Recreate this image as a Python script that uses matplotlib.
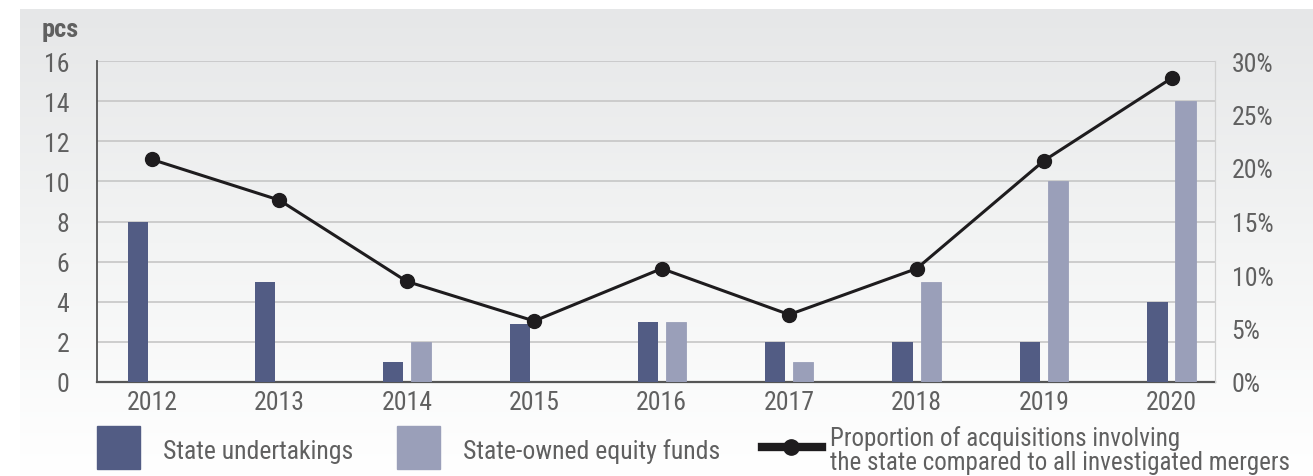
import numpy as np
import matplotlib
matplotlib.use("Agg")
import matplotlib.pyplot as plt
from matplotlib import font_manager
from matplotlib.patches import Rectangle
from matplotlib.lines import Line2D

# data
years = ['2012', '2013', '2014', '2015', '2016', '2017', '2018', '2019', '2020']
state_undertakings = [8, 5, 1, 2.9, 3, 2, 2, 2, 4]
state_funds = [0, 0, 2, 0, 3, 1, 5, 10, 14]
proportion = [20.8, 17.0, 9.4, 5.7, 10.6, 6.3, 10.6, 20.7, 28.4]

left_ticks = [0, 2, 4, 6, 8, 10, 12, 14, 16]
right_ticks = [0, 5, 10, 15, 20, 25, 30]

names = set(f.name for f in font_manager.fontManager.ttflist)
for fam in ['Liberation Sans Narrow', 'Roboto Condensed', 'DejaVu Sans Condensed', 'Roboto']:
    if fam in names:
        plt.rcParams['font.family'] = [fam, 'DejaVu Sans']
        break

dark = '#525c84'
light = '#9a9fb9'
txt = '#606060'
fs = 18.5

W, H = 1313, 477
fig = plt.figure(figsize=(W / 100, H / 100), dpi=100)

# gradient background panel
bg = fig.add_axes([20 / W, 0, 1 - 20 / W, 1 - 10 / H], zorder=-10)
grad = np.linspace(0, 1, 256).reshape(-1, 1)
bg.imshow(grad, aspect='auto', cmap=matplotlib.colors.LinearSegmentedColormap.from_list(
    'g', ['#e6e7e8', '#f3f4f4', '#ffffff']), extent=[0, 1, 0, 1], origin='upper')
bg.axis('off')

ax = fig.add_axes([97 / W, 1 - 383 / H, (1215 - 97) / W, (383 - 62) / H])
ax.patch.set_alpha(0)
x = np.arange(len(years))
bw = 0.16
ax.bar(x - 0.11, state_undertakings, bw, color=dark, zorder=3)
ax.bar(x + 0.11, state_funds, bw, color=light, edgecolor=light, linewidth=0.6, zorder=3)
ax.set_xlim(-0.43, 8.34)
ax.set_ylim(0, 16)
ax.set_yticks(left_ticks)
ax.set_xticks(x)
ax.set_xticklabels(years)
ax.grid(axis='y', color='#c6c6c6', linewidth=1.2, zorder=0)
ax.set_axisbelow(True)
ax.tick_params(length=0, labelsize=fs, colors=txt, pad=6)
ax.tick_params(axis='y', pad=20)
ax.spines['top'].set_visible(False)
ax.spines['left'].set_color('#555555')
ax.spines['left'].set_linewidth(1.3)
ax.spines['bottom'].set_color('#555555')
ax.spines['bottom'].set_linewidth(1.6)
ax.spines['right'].set_color('#d0d0d0')

ax2 = ax.twinx()
ax2.plot(x, proportion, color='#1e1c1e', linewidth=2.2, marker='o', markersize=10, zorder=5)
ax2.set_ylim(0, 30)
ax2.set_yticks(right_ticks)
ax2.set_yticklabels([f'{t}%' for t in right_ticks])
ax2.tick_params(length=0, labelsize=fs, colors=txt, pad=12)
for s in ['top', 'left', 'bottom']:
    ax2.spines[s].set_visible(False)
ax2.spines['right'].set_color('#d0d0d0')

fig.text(42 / W, 1 - 30 / H, 'pcs', fontsize=19, fontweight='bold', color=txt, va='center')

# legend drawn in figure coordinates
fig.patches.append(Rectangle((97 / W, 1 - 470 / H), 43 / W, 43 / H, color=dark, transform=fig.transFigure))
fig.text(163 / W, 1 - 452 / H, 'State undertakings', fontsize=fs, color=txt, va='center')
fig.patches.append(Rectangle((397 / W, 1 - 470 / H), 43 / W, 43 / H, color=light, transform=fig.transFigure))
fig.text(463 / W, 1 - 452 / H, 'State-owned equity funds', fontsize=fs, color=txt, va='center')
fig.lines.append(Line2D([762 / W, 822 / W], [1 - 448 / H, 1 - 448 / H], color='#1e1c1e', linewidth=6,
                        transform=fig.transFigure))
fig.lines.append(Line2D([791 / W], [1 - 448 / H], color='#1e1c1e', marker='o', markersize=11,
                        transform=fig.transFigure))
fig.text(830 / W, 1 - 451 / H, 'Proportion of acquisitions involving\nthe state compared to all investigated mergers',
         fontsize=18, color=txt, va='center', linespacing=1.0)

fig.savefig('out.png', dpi=100)
